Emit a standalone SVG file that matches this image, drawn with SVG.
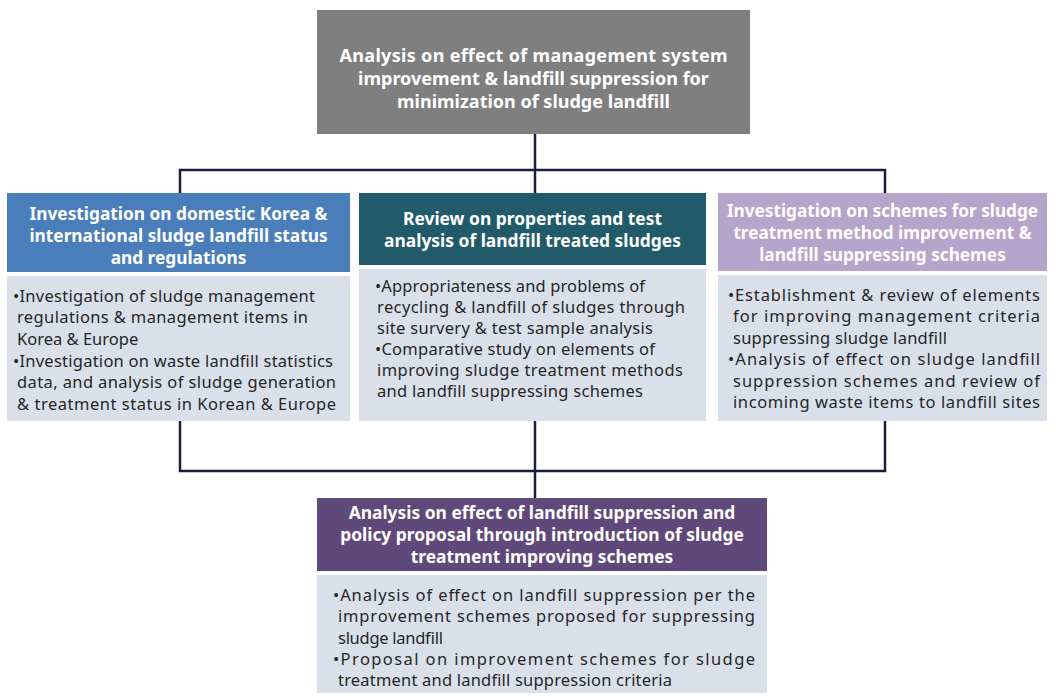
<svg xmlns="http://www.w3.org/2000/svg" width="1056" height="697" viewBox="0 0 1056 697">
  <style>
    .hd { font-family: "Noto Sans", "Open Sans", "Liberation Sans", sans-serif; font-weight: bold; fill: #ffffff; text-anchor: middle; }
    .bd { font-family: "Noto Sans", "Open Sans", "Liberation Sans", sans-serif; font-size: 16.5px; fill: #262626; }
    .body { fill: #dae0ea; }
    .conn { fill: none; stroke: #1c1c3c; stroke-width: 2.5; }
  </style>
  <rect width="1056" height="697" fill="#ffffff"/>

  <!-- connectors -->
  <g id="connectors">
    <path class="conn" d="M535,134 V193"/>
    <path class="conn" d="M180,193 V170 H885 V193"/>
    <path class="conn" d="M180,421 V471 H885 V421"/>
    <path class="conn" d="M535,421 V498"/>
  </g>

  <!-- top goal -->
  <g id="goal">
    <rect x="317" y="10" width="433" height="124" fill="#7f7f7f"/>
    <text class="hd" font-size="18" x="533.5" y="62" textLength="388">Analysis on effect of management system</text>
    <text class="hd" font-size="18" x="533.5" y="85">improvement &amp; landfill suppression for</text>
    <text class="hd" font-size="18" x="533.5" y="108">minimization of sludge landfill</text>
  </g>

  <!-- left branch -->
  <g id="investigation-status">
    <rect x="7" y="193" width="343" height="79" fill="#4a7ebb"/>
    <rect class="body" x="7" y="276" width="343" height="145"/>
    <text class="hd" font-size="17.3" x="178.5" y="220">Investigation on domestic Korea &amp;</text>
    <text class="hd" font-size="17.3" x="178.5" y="242">international sludge landfill status</text>
    <text class="hd" font-size="17.3" x="178.5" y="264">and regulations</text>
    <text class="bd" x="13" y="302" textLength="302">•Investigation of sludge management</text>
    <text class="bd" x="17" y="323" textLength="291">regulations &amp; management items in</text>
    <text class="bd" x="17" y="345">Korea &amp; Europe</text>
    <text class="bd" x="13" y="367" textLength="320">•Investigation on waste landfill statistics</text>
    <text class="bd" x="17" y="388" textLength="319">data, and analysis of sludge generation</text>
    <text class="bd" x="17" y="410" textLength="319">&amp; treatment status in Korean &amp; Europe</text>
  </g>

  <!-- middle branch -->
  <g id="review-properties">
    <rect x="359" y="193" width="347" height="72" fill="#215a68"/>
    <rect class="body" x="359" y="269" width="347" height="152"/>
    <text class="hd" font-size="17.4" x="532.5" y="225">Review on properties and test</text>
    <text class="hd" font-size="17.4" x="532.5" y="247">analysis of landfill treated sludges</text>
    <text class="bd" x="375" y="292" textLength="270">•Appropriateness and problems of</text>
    <text class="bd" x="377" y="313" textLength="308">recycling &amp; landfill of sludges through</text>
    <text class="bd" x="377" y="334" textLength="276">site survery &amp; test sample analysis</text>
    <text class="bd" x="375" y="355" textLength="280">•Comparative study on elements of</text>
    <text class="bd" x="377" y="376" textLength="306">improving sludge treatment methods</text>
    <text class="bd" x="377" y="397" textLength="266">and landfill suppressing schemes</text>
  </g>

  <!-- right branch -->
  <g id="investigation-schemes">
    <rect x="718" y="193" width="329" height="78" fill="#b6a5cb"/>
    <rect class="body" x="718" y="275" width="329" height="146"/>
    <text class="hd" font-size="17.2" x="882.5" y="217">Investigation on schemes for sludge</text>
    <text class="hd" font-size="17.2" x="882.5" y="239">treatment method improvement &amp;</text>
    <text class="hd" font-size="17.2" x="882.5" y="261">landfill suppressing schemes</text>
    <text class="bd" x="728" y="301" textLength="312">•Establishment &amp; review of elements</text>
    <text class="bd" x="733" y="322" textLength="307">for improving management criteria</text>
    <text class="bd" x="733" y="344" textLength="214">suppressing sludge landfill</text>
    <text class="bd" x="728" y="365" textLength="312">•Analysis of effect on sludge landfill</text>
    <text class="bd" x="733" y="387" textLength="307">suppression schemes and review of</text>
    <text class="bd" x="733" y="408" textLength="307">incoming waste items to landfill sites</text>
  </g>

  <!-- bottom outcome -->
  <g id="policy-proposal">
    <rect x="317" y="498" width="450" height="73" fill="#5f497a"/>
    <rect class="body" x="317" y="575" width="450" height="118"/>
    <text class="hd" font-size="17.4" x="542" y="519">Analysis on effect of landfill suppression and</text>
    <text class="hd" font-size="17.4" x="542" y="541">policy proposal through introduction of sludge</text>
    <text class="hd" font-size="17.4" x="542" y="563">treatment improving schemes</text>
    <text class="bd" x="333" y="601" textLength="422">•Analysis of effect on landfill suppression per the</text>
    <text class="bd" x="338" y="622" textLength="417">improvement schemes proposed for suppressing</text>
    <text class="bd" x="338" y="644" textLength="105">sludge landfill</text>
    <text class="bd" x="333" y="665" textLength="422">•Proposal on improvement schemes for sludge</text>
    <text class="bd" x="338" y="686" textLength="334">treatment and landfill suppression criteria</text>
  </g>
</svg>
